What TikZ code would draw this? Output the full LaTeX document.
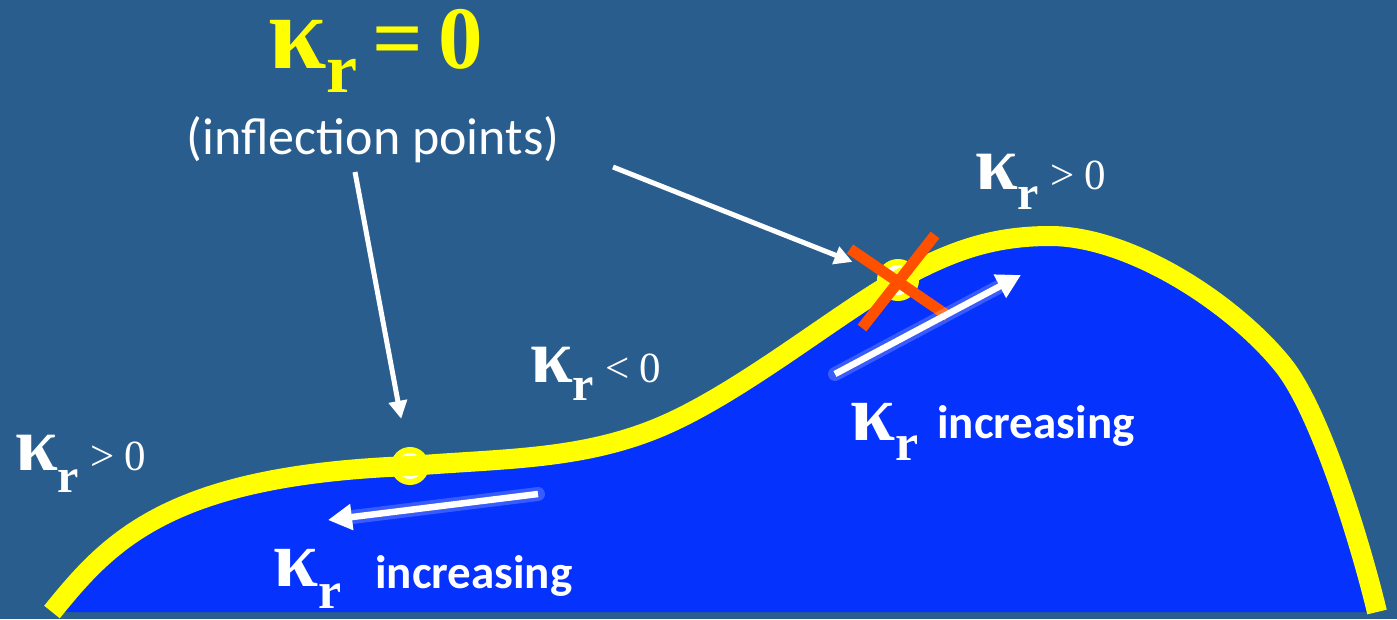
\documentclass[tikz,border=0pt]{standalone}
\usepackage{fontspec}
\setmainfont{Liberation Serif}
\newfontfamily\calfont{Carlito}
\usetikzlibrary{arrows.meta}
\definecolor{bg}{RGB}{40,93,141}
\definecolor{fillblue}{RGB}{6,50,253}
\definecolor{yel}{RGB}{255,255,0}
\definecolor{xred}{RGB}{255,80,0}
\newcommand{\kapr}[3]{{\fontsize{#1}{#1}\selectfont\bfseries κ}\raisebox{-#3pt}{\fontsize{#2}{#2}\selectfont\bfseries r}}
\tikzset{
  lbl/.style={inner sep=0pt, anchor=base west, text=white},
  thinarrow/.style={white, line width=5pt, -{Triangle[length=18pt,width=18pt]}},
  glowline/.style={white, opacity=0.2, line width=14pt, line cap=round, shorten >=14pt},
  glowarrow/.style={white, line width=6.5pt, -{Triangle[length=24pt,width=25pt]}},
  ipt/.style={circle, minimum size=#1, inner sep=0pt, draw=yel, line width=6pt, fill=white},
  xbar/.style={xred, line width=11pt},
  curve/.style={yel, line width=20pt}
}
\begin{document}
\begin{tikzpicture}[x=1pt,y=-1pt]
\useasboundingbox (0,0) rectangle (1397,619);
\fill[bg] (0,0) rectangle (1397,619);
% blue body
\fill[fillblue] (52,612) .. controls (110,540) and (170,475) .. (410,466)
  .. controls (500,458.4) and (580,460.6) .. (660,427)
  .. controls (740,393.4) and (838,313) .. (898,280)
  .. controls (948,252.5) and (990,236) .. (1050,236)
  .. controls (1130,236) and (1233,303) .. (1283,365)
  .. controls (1321,412) and (1362,549) .. (1377,612) -- cycle;
% inflection point markers
\node[ipt=32pt] (ip1) at (410,466) {};
\node[ipt=36pt] (ip2) at (898,280) {};
% yellow outline
\draw[curve] (52,612) .. controls (110,540) and (170,475) .. (410,466)
  .. controls (500,458.4) and (580,460.6) .. (660,427)
  .. controls (740,393.4) and (838,313) .. (898,280)
  .. controls (948,252.5) and (990,236) .. (1050,236)
  .. controls (1130,236) and (1233,303) .. (1283,365)
  .. controls (1321,412) and (1362,549) .. (1377,612);
% red cross
\draw[xbar] (850,249) -- (948,316);
\draw[xbar] (862,328) -- (935,235);
% glowing arrows
\coordinate (g1s) at (538,494);
\coordinate (g1e) at (328,520);
\coordinate (g2s) at (835,374);
\coordinate (g2e) at (1021,275);
\draw[glowline] (g1s) -- (g1e);
\draw[glowline] (g2s) -- (g2e);
\draw[glowarrow] (g1s) -- (g1e);
\draw[glowarrow] (g2s) -- (g2e);
% labels
\node[lbl, text=yel] (t0) at (268,68) {\kapr{105}{70}{24}{\fontsize{89}{89}\selectfont\bfseries\hspace{15pt}=\hspace{15pt}0}};
\node[inner sep=0pt, text=white] (infl) at (373,140) {\calfont\fontsize{52}{52}\selectfont (inflection points)};
\node[lbl] (kpos1) at (975,189) {\kapr{77}{48}{20}{\fontsize{43}{43}\selectfont\ > 0}};
\node[lbl] (kneg) at (530,382) {\kapr{77}{48}{18}{\fontsize{43}{43}\selectfont\ < 0}};
\node[lbl] (kpos2) at (15,470) {\kapr{77}{48}{22}{\fontsize{43}{43}\selectfont\ > 0}};
\node[lbl] (kinc1) at (273,586) {\kapr{81}{52}{22}};
\node[lbl] (inc1) at (375,588) {\calfont\bfseries\fontsize{47}{47}\selectfont increasing};
\node[lbl] (kinc2) at (850,440) {\kapr{81}{52}{20}};
\node[lbl] (inc2) at (937,438) {\calfont\bfseries\fontsize{47}{47}\selectfont increasing};
% pointer arrows
\coordinate (a1s) at (355,172);
\coordinate (a2s) at (613,167);
\draw[thinarrow, shorten >=29pt] (a1s) -- (ip1);
\draw[thinarrow, shorten >=28pt] (a2s) -- (ip2);
\end{tikzpicture}
\end{document}
